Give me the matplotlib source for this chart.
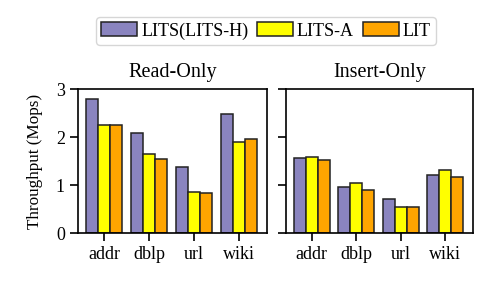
import matplotlib
matplotlib.use("Agg")
import matplotlib.pyplot as plt
import numpy as np

plt.rcParams['font.family'] = ['Liberation Serif', 'DejaVu Serif']

categories = ["addr", "dblp", "url", "wiki"]
series = ["LITS(LITS-H)", "LITS-A", "LIT"]
colors = ["#8A84BF", "#FFFF00", "#FFA500"]
read_only = [
    [2.80, 2.08, 1.38, 2.47],
    [2.24, 1.64, 0.86, 1.89],
    [2.24, 1.55, 0.84, 1.95],
]
insert_only = [
    [1.56, 0.96, 0.70, 1.21],
    [1.58, 1.05, 0.54, 1.32],
    [1.53, 0.89, 0.54, 1.17],
]
titles = ["Read-Only", "Insert-Only"]

fig = plt.figure(figsize=(4.9, 2.81), dpi=100)
ax1 = fig.add_axes([78/490, 1-233/281, 189/490, 144/281])
ax2 = fig.add_axes([286/490, 1-233/281, 187/490, 144/281], sharey=ax1)

x = np.arange(len(categories))
w = 0.27
handles = []
for ax, data, title in zip([ax1, ax2], [read_only, insert_only], titles):
    for i, (vals, c) in enumerate(zip(data, colors)):
        b = ax.bar(x + (i - 1) * w, vals, w, color=c, edgecolor="#222222", linewidth=1.1, label=series[i])
        if ax is ax1:
            handles.append(b)
    ax.set_xticks(x)
    ax.set_xticklabels(categories, fontsize=13)
    ax.set_xlim(-0.58, 3.62)
    ax.set_ylim(0, 3)
    ax.set_yticks([0, 1, 2, 3])
    ax.set_title(title, fontsize=14.5, pad=9)
    ax.tick_params(direction="out", length=5.5, width=1.2, labelsize=13, pad=4)
    for s in ax.spines.values():
        s.set_linewidth(1.2)

ax1.set_ylabel("Throughput (Mops)", fontsize=12.3, labelpad=9)
plt.setp(ax2.get_yticklabels(), visible=False)

fig.legend(handles=handles, labels=series, loc="center", bbox_to_anchor=(266/490, 1-31/281),
           ncol=3, fontsize=13, frameon=True, fancybox=True, edgecolor="#cccccc",
           handlelength=2.0, handleheight=0.8, columnspacing=0.5, handletextpad=0.2,
           borderpad=0.3)

fig.savefig("out.png", dpi=100)
